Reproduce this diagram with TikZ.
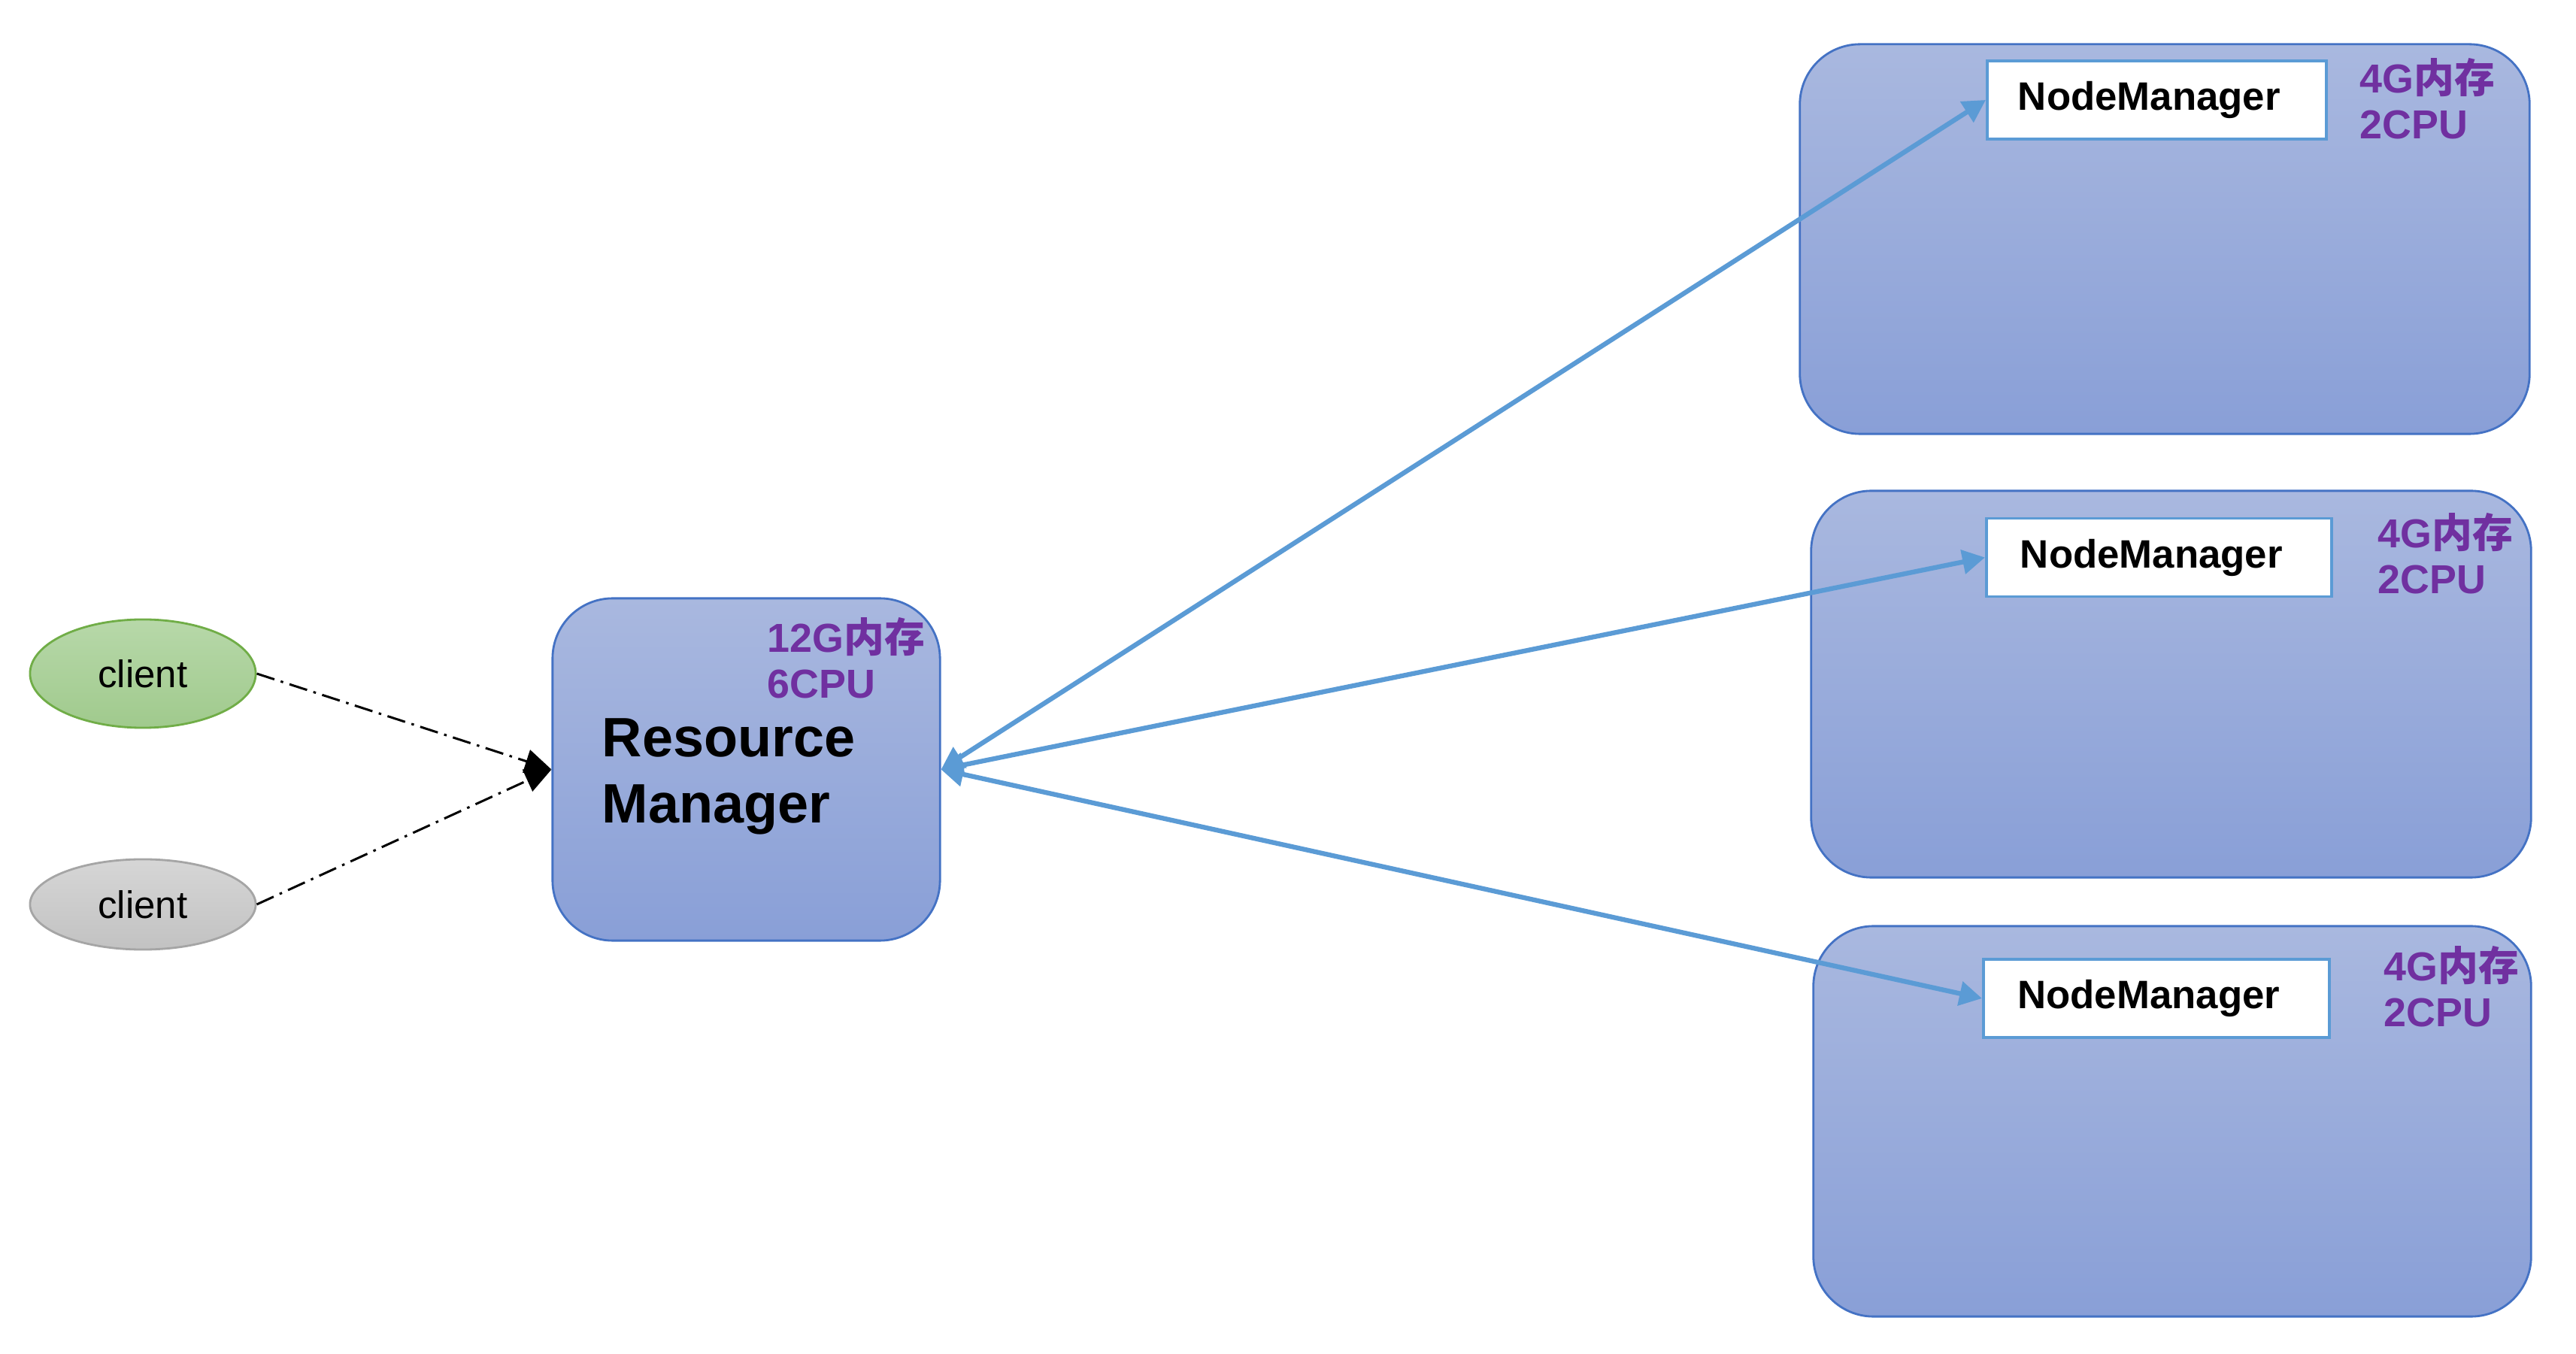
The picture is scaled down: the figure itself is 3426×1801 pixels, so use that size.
\documentclass[tikz,border=0pt]{standalone}
\usepackage{fontspec}
\setmainfont{Liberation Sans}
\newfontfamily\cjk{Noto Sans CJK SC}
\usepackage{tikz}
\usetikzlibrary{shapes.geometric,arrows.meta}
\definecolor{box top}{RGB}{169,184,223}
\definecolor{box bottom}{RGB}{137,159,215}
\definecolor{box border}{RGB}{68,114,196}
\definecolor{link blue}{RGB}{91,155,213}
\definecolor{spec purple}{RGB}{112,48,160}
\definecolor{green top}{RGB}{183,216,169}
\definecolor{green bottom}{RGB}{160,202,141}
\definecolor{green border}{RGB}{112,173,71}
\definecolor{gray top}{RGB}{214,214,214}
\definecolor{gray bottom}{RGB}{194,194,194}
\definecolor{gray border}{RGB}{165,165,165}

\tikzset{
  machine/.style={draw=box border, line width=0.8pt, top color=box top, bottom color=box bottom,
    rounded corners=0.8cm, inner sep=0pt},
  nmbox/.style={draw=link blue, line width=1.1pt, fill=white, minimum height=1.04cm,
    inner xsep=0.41cm, inner ysep=0pt, text width=3.69cm, align=left,
    font=\bfseries\fontsize{15pt}{18pt}\selectfont},
  spec/.style={anchor=base west, align=left, inner sep=0pt, text=spec purple,
    font=\bfseries\fontsize{15.3pt}{17.6pt}\selectfont},
  rmtext/.style={anchor=base west, align=left, inner sep=0pt,
    font=\bfseries\fontsize{21pt}{25.3pt}\selectfont},
  client/.style={ellipse, line width=0.8pt, minimum width=3cm, inner sep=0pt,
    font=\fontsize{14.5pt}{17pt}\selectfont},
  greenclient/.style={draw=green border, top color=green top, bottom color=green bottom},
  grayclient/.style={draw=gray border, top color=gray top, bottom color=gray bottom},
  clientlink/.style={line width=0.85pt, dash pattern=on 7pt off 2.5pt on 1pt off 2.5pt,
    -{Triangle[length=10pt,width=9pt]}},
  nmlink/.style={draw=link blue, line width=1.8pt,
    {Triangle[length=8.5pt,width=9pt]}-{Triangle[length=8.5pt,width=9pt]}}
}

\begin{document}
\begin{tikzpicture}[x=0.01cm, y=-0.01cm]
  \useasboundingbox (0,0) rectangle (3426,1801);
  % the machines
  \node[machine, minimum width=5.15cm, minimum height=4.55cm] (rm) at (992.5,1023.5) {};
  \node[machine, minimum width=9.70cm, minimum height=5.18cm] (host1) at (2879,318) {};
  \node[machine, minimum width=9.57cm, minimum height=5.14cm] (host2) at (2887.5,910) {};
  \node[machine, minimum width=9.54cm, minimum height=5.19cm] (host3) at (2889,1491.5) {};
  % resource manager
  \node[rmtext] (rmname) at (800,1095) {Resource\\Manager};
  \node[spec] (rmspec) at (1020,929) {12G{\cjk 内存}\\6CPU};
  % node managers
  \node[nmbox, minimum width=4.51cm] (nm1) at (2868.5,133) {NodeManager};
  \node[nmbox, minimum width=4.59cm] (nm2) at (2871.5,741.5) {NodeManager};
  \node[nmbox, minimum width=4.60cm] (nm3) at (2868,1328) {NodeManager};
  \node[spec] (spec1) at (3138,185) {4G{\cjk 内存}\\2CPU};
  \node[spec] (spec2) at (3162,790) {4G{\cjk 内存}\\2CPU};
  \node[spec] (spec3) at (3170,1366) {4G{\cjk 内存}\\2CPU};
  % clients
  \node[client, greenclient, minimum height=1.44cm] (client1) at (190,896) {client};
  \node[client, grayclient, minimum height=1.2cm] (client2) at (190,1203) {client};
  % links
  \draw[clientlink] (client1.east) -- (rm.west);
  \draw[clientlink] (client2.east) -- (rm.west);
  \draw[nmlink] (rm.east) -- (nm1.west);
  \draw[nmlink] (rm.east) -- (nm2.west);
  \draw[nmlink] (rm.east) -- (nm3.west);
\end{tikzpicture}
\end{document}
